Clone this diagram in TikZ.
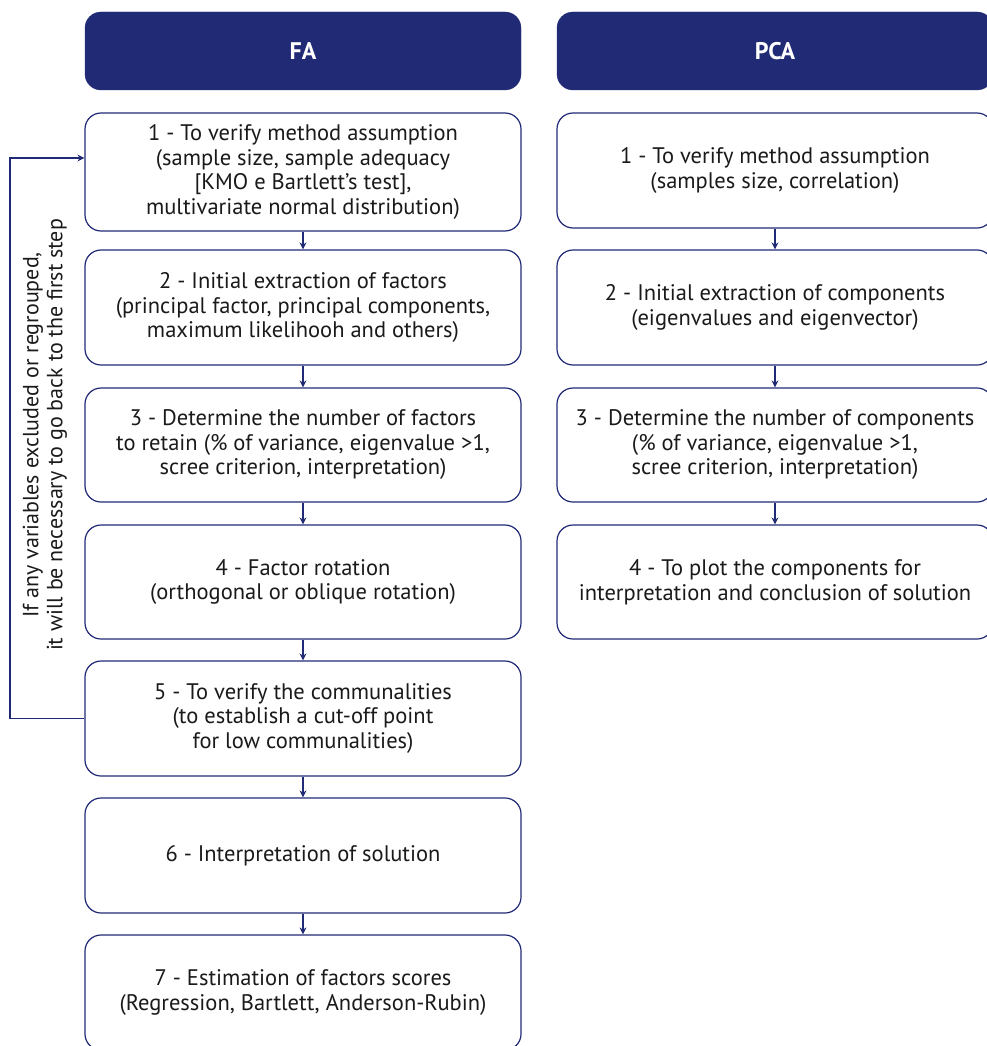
\documentclass[tikz,border=0pt]{standalone}
\usepackage{fontspec}
\setmainfont{PT Sans}
\usetikzlibrary{arrows.meta}
\definecolor{navy}{HTML}{212A75}
\definecolor{ink}{HTML}{1A1A1A}
\begin{document}
\begin{tikzpicture}[x=1pt,y=-1pt,
 hdr/.style={draw=navy, fill=navy, rounded corners=16pt, text=white, minimum width=436pt, minimum height=78pt, inner sep=0pt, font=\fontsize{24}{26}\selectfont\bfseries},
 box/.style={draw=navy, line width=1.2pt, rounded corners=16pt, fill=white, align=center, text=ink, minimum width=436pt, inner sep=0pt, font=\fontsize{22.5}{24.5}\selectfont},
 arr/.style={draw=navy, line width=1.2pt, -{Stealth[length=7pt,width=7pt]}},
 lbl/.style={rotate=90, align=center, text=ink, font=\fontsize{22}{24}\selectfont}]
\useasboundingbox (0,0) rectangle (987,1046);
\clip (0,0) rectangle (987,1046);
% headers
\node[hdr] (fa) at (303,51) {FA};
\node[hdr] (pca) at (775,51) {PCA};
% FA column
\node[box, minimum height=118pt] (f1) at (303,172) {1 - To verify method assumption\\(sample size, sample adequacy\\{[}KMO e Bartlett’s test{]},\\multivariate normal distribution)};
\node[box, minimum height=115pt] (f2) at (303,307.5) {2 - Initial extraction of factors\\(principal factor, principal components,\\maximum likelihooh and others)};
\node[box, minimum height=114pt] (f3) at (303,445) {3 - Determine the number of factors\\to retain (\% of variance, eigenvalue >1,\\scree criterion, interpretation)};
\node[box, minimum height=114pt] (f4) at (303,582) {4 - Factor rotation\\(orthogonal or oblique rotation)};
\node[box, minimum height=115pt] (f5) at (303,718.5) {5 - To verify the communalities\\(to establish a cut-off point\\for low communalities)};
\node[box, minimum height=115pt] (f6) at (303,855.5) {6 - Interpretation of solution};
\node[box, minimum height=115pt] (f7) at (303,992.5) {7 - Estimation of factors scores\\(Regression, Bartlett, Anderson-Rubin)};
% PCA column
\node[box, minimum height=115pt] (p1) at (775,170.5) {1 - To verify method assumption\\(samples size, correlation)};
\node[box, minimum height=115pt] (p2) at (775,307.5) {2 - Initial extraction of components\\(eigenvalues and eigenvector)};
\node[box, minimum height=114pt] (p3) at (775,445) {3 - Determine the number of components\\(\% of variance, eigenvalue >1,\\scree criterion, interpretation)};
\node[box, minimum height=114pt] (p4) at (775,582) {4 - To plot the components for\\interpretation and conclusion of solution};
% arrows
\draw[arr] (f1.south) -- (f2.north);
\draw[arr] (f2.south) -- (f3.north);
\draw[arr] (f3.south) -- (f4.north);
\draw[arr] (f4.south) -- (f5.north);
\draw[arr] (f5.south) -- (f6.north);
\draw[arr] (f6.south) -- (f7.north);
\draw[arr] (p1.south) -- (p2.north);
\draw[arr] (p2.south) -- (p3.north);
\draw[arr] (p3.south) -- (p4.north);
% feedback loop
\coordinate (back) at ([yshift=14pt]f1.west);
\draw[arr] (f5.west) -- (10,718.5) |- (back);
\node[lbl] (note) at (45,435) {If any variables excluded or regrouped,\\it will be necessary to go back to the first step};
\end{tikzpicture}
\end{document}
